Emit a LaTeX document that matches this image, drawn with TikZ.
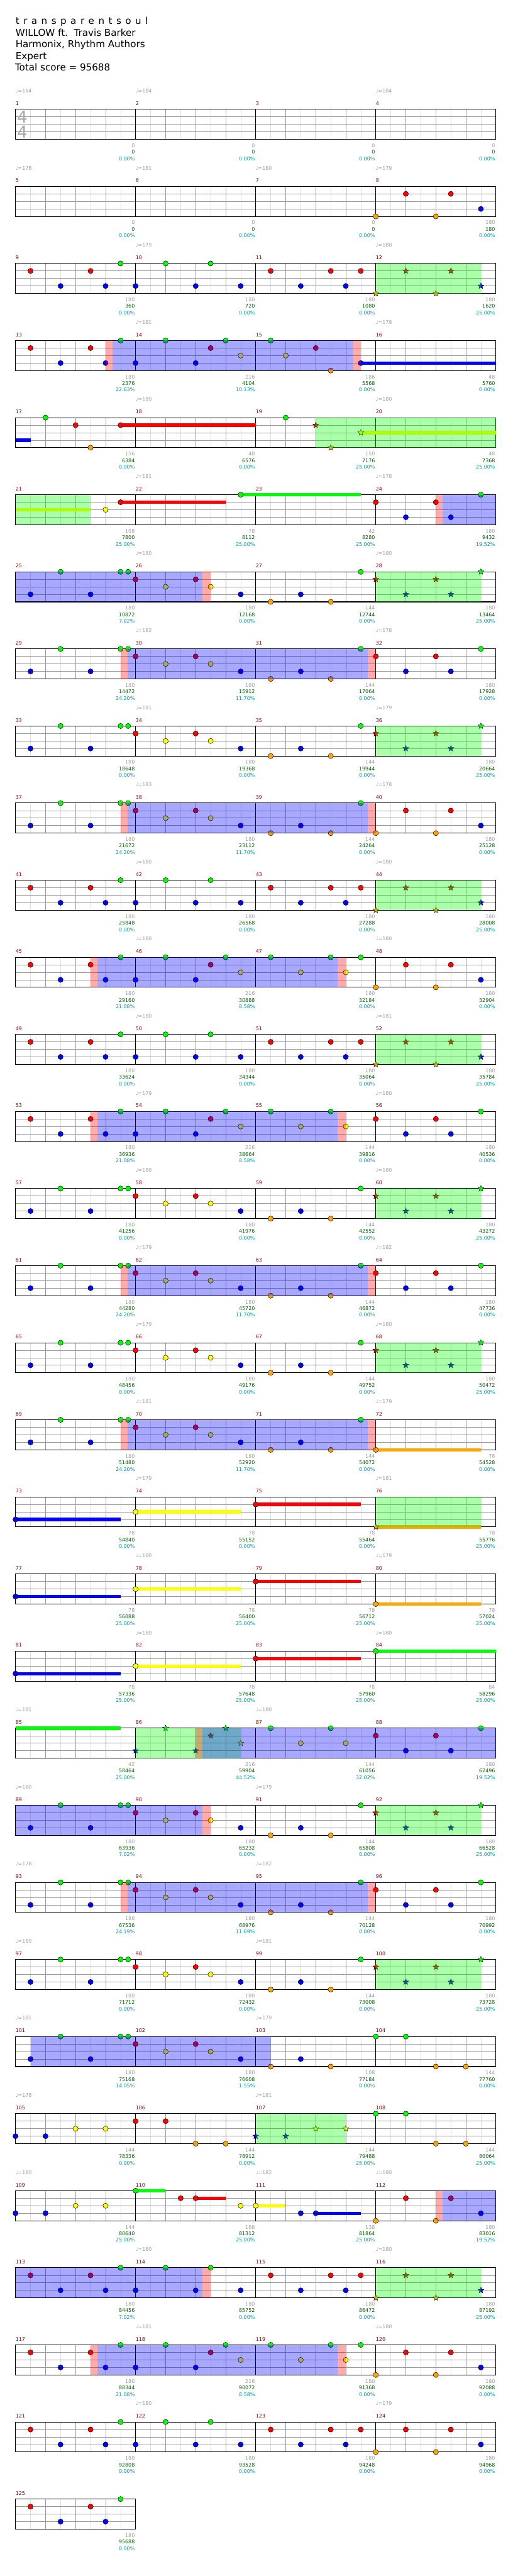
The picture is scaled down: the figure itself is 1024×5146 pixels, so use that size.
\documentclass[tikz,border=0pt]{standalone}
\usepackage{fontspec}
\setmainfont{DejaVu Sans}
\newfontfamily\spacedfont{DejaVu Sans}[WordSpace=1.35]
\usetikzlibrary{shapes.geometric}
\definecolor{lane0}{HTML}{00FF00}
\definecolor{lane1}{HTML}{FF0000}
\definecolor{lane2}{HTML}{FFFF00}
\definecolor{lane3}{HTML}{0000FF}
\definecolor{lane4}{HTML}{FFA500}
\definecolor{MeasNum}{HTML}{8B0000}
\definecolor{PtsGrey}{HTML}{A0A0A0}
\definecolor{TotGreen}{HTML}{006400}
\definecolor{PctTeal}{HTML}{009999}
\definecolor{GridLight}{HTML}{DDDDDD}
\definecolor{GridDark}{HTML}{999999}
\definecolor{SigGrey}{HTML}{AAAAAA}

\newcommand{\labfont}{\fontsize{10}{12}\selectfont}
\newcommand{\patA}{2/3,6/0,10/3,14/0,15/0,16/1,20/2,24/1,26/2,30/3,34/4,38/3,42/4}
\newcommand{\patB}{2/1,6/3,10/1,12/3,14/0,16/3,20/0,24/3,26/0,30/3,34/1,38/3,42/1,44/3,46/1}
\newcommand{\patC}{2/1,6/3,10/1,12/3,14/0,16/3,20/0,24/3,26/1,28/0,30/2,34/0,38/2,42/0,44/2}
\newcommand{\tailA}{48/4,52/1,56/4,58/1,62/3}
\newcommand{\tailB}{48/1,52/3,56/1,58/3,62/0}

\newcommand{\hits}[1]{\edef\hitlist{#1}%
  \foreach \nx/\nl in \hitlist {\filldraw[hit,fill=lane\nl] (15*\nx,15*\nl) circle[radius=5.2];}}
\newcommand{\stars}[1]{\edef\starlist{#1}%
  \foreach \nx/\nl in \starlist {\node[spstar,fill=lane\nl] (st\nx) at (15*\nx,15*\nl) {};}}
\newcommand{\sus}[3]{\fill[lane#1] (15*#2,15*#1-3.3) rectangle (15*#3,15*#1+3.3);}
\newcommand{\spzone}[2]{\fill[lane0,fill opacity=.33] (15*#1,0) rectangle (15*#2,60);}
\newcommand{\actzone}[2]{\fill[lane3,fill opacity=.34] (15*#1,0) rectangle (15*#2,60);}
\newcommand{\pinkzone}[2]{\fill[lane1,fill opacity=.33] (15*#1,0) rectangle (15*#2,60);}

\begin{document}
\begin{tikzpicture}[x=1pt,y=-1pt,
  row/.style={shift={(31,{218.3+154*#1})}},
  hit/.style={draw=black,line width=0.6},
  spstar/.style={star,star points=5,star point ratio=2.3,minimum size=12.5,inner sep=0,draw=black,line width=0.5},
  light/.style={GridLight,line width=0.8},
  dark/.style={GridDark,line width=0.9},
  edge/.style={black,line width=1.3},
  barl/.style={black,line width=0.8},
  title/.style={anchor=base west,inner sep=0,font=\fontsize{19}{23}\selectfont},
  mnum/.style={anchor=base west,inner sep=0,font=\labfont,text=MeasNum},
  pts/.style={anchor=east,inner sep=0,font=\labfont,text=PtsGrey},
  tot/.style={anchor=east,inner sep=0,font=\labfont,text=TotGreen},
  pct/.style={anchor=east,inner sep=0,font=\labfont,text=PctTeal},
  tempo/.style={anchor=base west,inner sep=0,font=\labfont,text=PtsGrey},
  timesig/.style={inner sep=0,font=\fontsize{33}{33}\selectfont,text=SigGrey}]

\useasboundingbox (0,0) rectangle (1024,5146);
\fill[white] (0,0) rectangle (1024,5146);

\node[title,font=\spacedfont\fontsize{19}{23}\selectfont] (song) at (31,49) {t r a n s p a r e n t s o u l};
\node[title] (artist) at (31,72.3) {WILLOW ft.\ \ Travis Barker};
\node[title] (charter) at (31,95.3) {Harmonix, Rhythm Authors};
\node[title] (level) at (31,118.3) {Expert};
\node[title] (score) at (30,141.3) {Total score = 95688};

% measures
\foreach \mn/\mp/\mt/\mq in {
  1/0/0/0.00, 2/0/0/0.00, 3/0/0/0.00, 4/0/0/0.00,
  5/0/0/0.00, 6/0/0/0.00, 7/0/0/0.00, 8/180/180/0.00,
  9/180/360/0.00, 10/180/720/0.00, 11/180/1080/0.00, 12/180/1620/25.00,
  13/180/2376/22.63, 14/216/4104/10.13, 15/186/5568/0.00, 16/48/5760/0.00,
  17/156/6384/0.00, 18/48/6576/0.00, 19/150/7176/25.00, 20/48/7368/25.00,
  21/108/7800/25.00, 22/78/8112/25.00, 23/42/8280/25.00, 24/180/9432/19.52,
  25/180/10872/7.02, 26/180/12168/0.00, 27/144/12744/0.00, 28/180/13464/25.00,
  29/180/14472/24.20, 30/180/15912/11.70, 31/144/17064/0.00, 32/180/17928/0.00,
  33/180/18648/0.00, 34/180/19368/0.00, 35/144/19944/0.00, 36/180/20664/25.00,
  37/180/21672/24.20, 38/180/23112/11.70, 39/144/24264/0.00, 40/180/25128/0.00,
  41/180/25848/0.00, 42/180/26568/0.00, 43/180/27288/0.00, 44/180/28008/25.00,
  45/180/29160/21.08, 46/216/30888/8.58, 47/180/32184/0.00, 48/180/32904/0.00,
  49/180/33624/0.00, 50/180/34344/0.00, 51/180/35064/0.00, 52/180/35784/25.00,
  53/180/36936/21.08, 54/216/38664/8.58, 55/144/39816/0.00, 56/180/40536/0.00,
  57/180/41256/0.00, 58/180/41976/0.00, 59/144/42552/0.00, 60/180/43272/25.00,
  61/180/44280/24.20, 62/180/45720/11.70, 63/144/46872/0.00, 64/180/47736/0.00,
  65/180/48456/0.00, 66/180/49176/0.00, 67/144/49752/0.00, 68/180/50472/25.00,
  69/180/51480/24.20, 70/180/52920/11.70, 71/144/54072/0.00, 72/78/54528/0.00,
  73/78/54840/0.00, 74/78/55152/0.00, 75/78/55464/0.00, 76/78/55776/25.00,
  77/78/56088/25.00, 78/78/56400/25.00, 79/78/56712/25.00, 80/78/57024/25.00,
  81/78/57336/25.00, 82/78/57648/25.00, 83/78/57960/25.00, 84/84/58296/25.00,
  85/42/58464/25.00, 86/216/59904/44.52, 87/144/61056/32.02, 88/180/62496/19.52,
  89/180/63936/7.02, 90/180/65232/0.00, 91/144/65808/0.00, 92/180/66528/25.00,
  93/180/67536/24.19, 94/180/68976/11.69, 95/144/70128/0.00, 96/180/70992/0.00,
  97/180/71712/0.00, 98/180/72432/0.00, 99/144/73008/0.00, 100/180/73728/25.00,
  101/180/75168/14.05, 102/180/76608/1.55, 103/108/77184/0.00, 104/144/77760/0.00,
  105/144/78336/0.00, 106/144/78912/0.00, 107/144/79488/25.00, 108/144/80064/25.00,
  109/144/80640/25.00, 110/168/81312/25.00, 111/138/81864/25.00, 112/180/83016/19.52,
  113/180/84456/7.02, 114/180/85752/0.00, 115/180/86472/0.00, 116/180/87192/25.00,
  117/180/88344/21.08, 118/216/90072/8.58, 119/180/91368/0.00, 120/180/92088/0.00,
  121/180/92808/0.00, 122/180/93528/0.00, 123/180/94248/0.00, 124/180/94968/0.00,
  125/180/95688/0.00}{
  \pgfmathtruncatemacro\mr{(\mn-1)/4}
  \pgfmathtruncatemacro\mc{\mn-1-4*\mr}
  \begin{scope}[shift={({31+240*\mc},{218.3+154*\mr})}]
    \fill[white] (0,0) rectangle (240,60);
    \foreach \k in {30,90,150,210} \draw[light] (\k,0) -- (\k,60);
    \foreach \k in {60,120,180} \draw[dark] (\k,0) -- (\k,60);
    \foreach \k in {15,30,45} \draw[dark] (0,\k) -- (240,\k);
    \draw[barl] (0,0) -- (0,60) (240,0) -- (240,60);
    \draw[edge] (-0.4,0) -- (240.4,0) (-0.4,60) -- (240.4,60);
    \node[mnum] (num\mn) at (0,-8) {\mn};
    \node[pts] (pts\mn) at (238.5,72.5) {\mp};
    \node[tot] (tot\mn) at (238.5,85.5) {\mt};
    \node[pct] (pct\mn) at (238.5,98.7) {\mq\%};
  \end{scope}
}

\foreach \mn/\bpm in {1/184,2/184,4/184,5/178,6/181,7/180,8/179,10/179,12/180,
  14/181,16/179,18/180,20/180,22/181,24/178,26/180,28/180,30/182,32/178,
  34/181,36/179,38/183,40/178,42/180,44/180,46/180,48/180,50/180,52/181,
  54/179,56/180,58/180,60/180,62/179,64/182,66/179,68/180,70/181,72/179,
  74/179,76/181,78/180,80/179,82/180,84/180,85/181,87/180,89/180,91/179,
  93/178,95/182,97/180,99/181,101/181,103/179,105/178,107/181,109/180,
  111/182,112/180,114/180,116/180,118/181,120/180,122/180,124/179}{
  \pgfmathtruncatemacro\mr{(\mn-1)/4}
  \pgfmathtruncatemacro\mc{\mn-1-4*\mr}
  \node[tempo] (bpm\mn) at ({31+240*\mc},{218.3+154*\mr-33}) {♩=\bpm};
}

\node[timesig] (sigtop) at (44.5,234) {4};
\node[timesig] (sigbot) at (44.5,264) {4};

% notes, sustains, star power and activations
\begin{scope}[row=1] \hits{\tailA} \end{scope}
\begin{scope}[row=2] \hits{\patB} \stars{\tailA} \spzone{48}{62} \end{scope}
\begin{scope}[row=3]
  \sus{3}{46}{64}
  \hits{2/1,6/3,10/1,12/3,14/0,16/3,20/0,24/3,26/1,28/0,30/2,34/0,36/2,40/1,42/4,46/3}
  \pinkzone{12}{12.93} \actzone{12.93}{45} \pinkzone{45}{46}
\end{scope}
\begin{scope}[row=4]
  \sus{3}{0}{2} \sus{1}{14}{32} \sus{2}{46}{64}
  \hits{4/0,8/1,10/4,14/1,36/0} \stars{40/1,42/4,46/2} \spzone{40}{64}
\end{scope}
\begin{scope}[row=5]
  \sus{2}{0}{10} \sus{1}{14}{28} \sus{0}{30}{46}
  \hits{12/2,14/1,30/0,\tailB} \spzone{0}{10}
  \pinkzone{56}{56.93} \actzone{56.93}{64}
\end{scope}
\begin{scope}[row=6] \hits{\patA,46/0} \stars{\tailB} \spzone{48}{62} \actzone{0}{24.9} \pinkzone{24.9}{26} \end{scope}
\begin{scope}[row=7] \hits{\patA,46/0,\tailB} \pinkzone{14}{14.93} \actzone{14.93}{46.93} \pinkzone{46.93}{48} \end{scope}
\begin{scope}[row=8] \hits{\patA,46/0} \stars{\tailB} \spzone{48}{62} \end{scope}
\begin{scope}[row=9] \hits{\patA,46/0,\tailA} \pinkzone{14}{14.93} \actzone{14.93}{46.93} \pinkzone{46.93}{48} \end{scope}
\begin{scope}[row=10] \hits{\patB} \stars{\tailA} \spzone{48}{62} \end{scope}
\begin{scope}[row=11] \hits{\patC,46/0,\tailA} \pinkzone{10}{10.93} \actzone{10.93}{42.93} \pinkzone{42.93}{44} \end{scope}
\begin{scope}[row=12] \hits{\patB} \stars{\tailA} \spzone{48}{62} \end{scope}
\begin{scope}[row=13] \hits{\patC,\tailB} \pinkzone{10}{10.93} \actzone{10.93}{42.93} \pinkzone{42.93}{44} \end{scope}
\begin{scope}[row=14] \hits{\patA,46/0} \stars{\tailB} \spzone{48}{62} \end{scope}
\begin{scope}[row=15] \hits{\patA,46/0,\tailB} \pinkzone{14}{14.93} \actzone{14.93}{46.93} \pinkzone{46.93}{48} \end{scope}
\begin{scope}[row=16] \hits{\patA,46/0} \stars{\tailB} \spzone{48}{62} \end{scope}
\begin{scope}[row=17]
  \sus{4}{48}{62} \hits{\patA,46/0,48/4}
  \pinkzone{14}{14.93} \actzone{14.93}{46.93} \pinkzone{46.93}{48}
\end{scope}
\begin{scope}[row=18]
  \sus{3}{0}{14} \sus{2}{16}{30} \sus{1}{32}{46} \sus{4}{48}{62}
  \hits{0/3,16/2,32/1} \stars{48/4} \spzone{48}{62}
\end{scope}
\begin{scope}[row=19]
  \sus{3}{0}{14} \sus{2}{16}{30} \sus{1}{32}{46} \sus{4}{48}{62}
  \hits{0/3,16/2,32/1,48/4}
\end{scope}
\begin{scope}[row=20]
  \sus{3}{0}{14} \sus{2}{16}{30} \sus{1}{32}{46} \sus{0}{48}{64}
  \hits{0/3,16/2,32/1,48/0}
\end{scope}
\begin{scope}[row=21]
  \sus{0}{0}{14}
  \hits{34/0,38/2,42/0,44/2,\tailB} \stars{16/3,20/0,24/3,26/1,28/0,30/2}
  \spzone{16}{30} \pinkzone{24}{24.93} \actzone{24.93}{64}
\end{scope}
\begin{scope}[row=22] \hits{\patA,46/0} \stars{\tailB} \spzone{48}{62} \actzone{0}{24.9} \pinkzone{24.9}{26} \end{scope}
\begin{scope}[row=23] \hits{\patA,46/0,\tailB} \pinkzone{14}{14.93} \actzone{14.93}{46.93} \pinkzone{46.93}{48} \end{scope}
\begin{scope}[row=24] \hits{\patA,46/0} \stars{\tailB} \spzone{48}{62} \end{scope}
\begin{scope}[row=25] \hits{\patA,48/0,52/0,56/4,60/4} \actzone{2}{34} \end{scope}
\begin{scope}[row=26]
  \hits{0/3,4/3,8/2,12/2,16/1,20/1,24/4,28/4,48/0,52/0,56/4,60/4}
  \stars{32/3,36/3,40/2,44/2} \spzone{32}{44}
\end{scope}
\begin{scope}[row=27]
  \sus{0}{16}{20} \sus{1}{24}{28} \sus{2}{32}{36} \sus{3}{40}{46}
  \hits{0/3,4/3,8/2,12/2,16/0,22/1,24/1,30/2,32/2,38/3,40/3,\tailA}
  \pinkzone{56}{56.93} \actzone{56.93}{64}
\end{scope}
\begin{scope}[row=28] \hits{\patB} \stars{\tailA} \spzone{48}{62} \actzone{0}{24.9} \pinkzone{24.9}{26} \end{scope}
\begin{scope}[row=29] \hits{\patC,46/0,\tailA} \pinkzone{10}{10.93} \actzone{10.93}{42.93} \pinkzone{42.93}{44} \end{scope}
\begin{scope}[row=30] \hits{\patB,\tailA} \end{scope}
\begin{scope}[row=31] \hits{2/1,6/3,10/1,12/3,14/0} \end{scope}
\end{tikzpicture}
\end{document}
